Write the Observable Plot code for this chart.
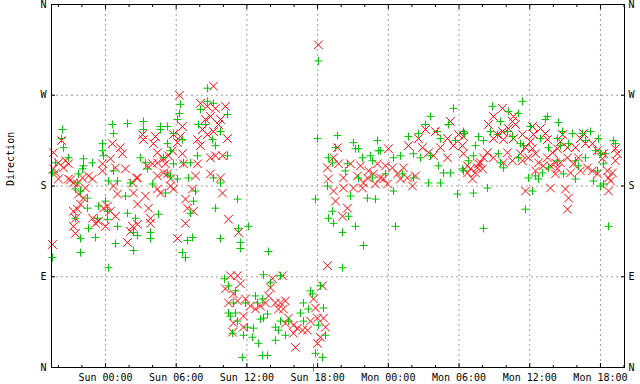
<!DOCTYPE html>
<html><head><meta charset="utf-8">
<script src="https://cdn.jsdelivr.net/npm/d3@7"></script>
<script src="https://cdn.jsdelivr.net/npm/@observablehq/plot@0.6"></script>
<style>html,body{margin:0;padding:0;background:#fff}</style>
</head><body><div id="chart"></div>
<script>
// hours relative to Sunday 00:00, direction in degrees (0 = N, 90 = E, 180 = S, 270 = W)
const xTicks = [0, 6, 12, 18, 24, 30, 36, 42];
const xTickLabels = ["Sun 00:00", "Sun 06:00", "Sun 12:00", "Sun 18:00", "Mon 00:00", "Mon 06:00", "Mon 12:00", "Mon 18:00"];
const yTicks = [0, 90, 180, 270, 360];
const yTickLabels = ["N", "E", "S", "W", "N"];
const xDomain = [-4.58, 44.04];

const redPoints = [
[-4.41,213],[-3.73,225],[-4.41,197],[-3.99,203],[-3.39,205],[-3.14,202],[-3.56,198],[-4.24,193],[-3.99,187],[-3.14,187],[-2.97,186],[-2.72,183],[-2.38,182],[-1.95,188],[-1.44,190],[-1.10,187],[-2.29,172],[-1.87,168],[-1.70,178],[-2.72,155],[-2.38,157],[-2.12,162],[-2.55,148],[-2.72,140],[-2.55,133],[-4.50,122],[-1.10,148],[-0.85,143],[-0.59,145],[-0.17,158],[0.17,160],[0.42,155],[0,140],[-0.25,202],[-0.25,195],[0.59,222],[1.27,218],[1.44,212],[0.42,207],[0.85,198],[1.70,197],[2.12,135],[1.87,124],[2.29,140],[2.72,142],[2.72,188],[0.68,180],[1.02,172],[0.85,150],
[6.28,270],[9.16,279],[6.53,239],[6.36,229],[6.11,223],[5.77,231],[6.53,212],[5.68,215],[5.35,210],[4.92,207],[4.41,203],[3.99,202],[3.56,200],[3.22,226],[3.14,231],[4.24,229],[4.07,222],[4.41,213],[5.09,202],[4.92,193],[4.41,190],[5.26,192],[5.52,187],[4.41,177],[4.67,173],[5.52,180],[5.77,177],[2.63,188],[2.29,183],[2.38,173],[2.72,162],[3.39,170],[3.65,158],[3.82,148],[3.82,143],[6.62,202],[7.81,202],[7.64,190],[8.91,192],[9.76,188],[7.38,177],[6.79,167],[6.96,158],[7.47,155],[6.79,143],[6.11,128],[9.93,173],[10.44,147],[11.29,134],[8.06,262],[8.65,259],[9.33,257],[10.18,259],[8.91,249],[8.49,246],[9.76,246],[8.23,236],[8.65,231],[9.16,234],[9.59,241],[10.35,227],[7.81,226],[8.06,220],[9.33,210],[9.93,210],[8.91,208],
[18.84,101],[10.18,78],[10.61,91],[11.20,91],[11.45,83],[10.86,73],[10.44,64],[11.20,66],[11.88,68],[12.30,61],[12.73,58],[13.15,61],[13.58,64],[14.00,79],[14.17,88],[15.02,91],[13.83,71],[14.42,64],[14.85,64],[15.27,66],[15.10,58],[14.68,58],[15.53,49],[15.95,42],[16.29,39],[16.72,37],[17.14,37],[15.95,34],[16.12,20],[11.71,51],[10.86,44],[10.78,35],[11.71,40],[15.27,44],[17.65,68],[17.99,49],[18.50,49],[18.67,40],[18.24,30],[17.99,24],[18.41,81],[17.82,59],[17.39,46],
[18.07,320],[19.77,202],[18.92,187],[18.84,198],[19.35,208],[20.19,188],[19.52,165],[20.53,158],[20.11,150],[19.35,175],[20.19,178],[21.04,178],[20.79,202],[21.64,200],[21.81,178],[22.32,195],[22.74,192],[22.91,182],[23.33,188],[23.76,200],[24.01,217],[24.35,198],[24.78,192],[25.03,187],[25.62,188],[26.05,180],[26.30,190],[25.71,220],[26.56,227],[27.15,236],[26.90,218],[27.41,213],[27.83,210],[28.00,234],[28.42,218],[29.02,227],[29.27,244],[29.53,220],[29.95,231],[30.38,212],[30.72,200],[29.02,208],[25.29,198],[23.08,202],[22.23,188],[21.38,190],[19.69,218],[21.89,183],[23.93,182],[23.59,187],
[33.69,257],[32.92,249],[32.50,241],[34.62,249],[34.53,244],[34.79,241],[34.19,237],[33.69,234],[33.26,231],[32.92,227],[33.77,226],[34.62,227],[35.38,231],[36.23,239],[36.32,231],[36.91,237],[37.33,232],[37.50,226],[36.06,224],[35.64,218],[36.23,217],[36.49,212],[35.89,208],[35.21,212],[35.38,205],[34.53,205],[34.11,213],[33.77,203],[32.92,208],[32.41,213],[32.07,208],[31.82,203],[31.99,197],[31.56,198],[30.97,197],[30.72,193],[31.14,187],[31.39,193],[31.65,202],[30.29,220],[30.38,229],[36.74,203],[37.50,208],[37.93,213],[38.35,217],[38.60,224],[38.78,231],[39.20,218],[39.88,218],[40.30,227],[40.56,232],[40.73,222],[41.32,222],[40.13,208],[39.71,202],[39.20,208],[38.60,203],[38.35,197],[38.18,192],[39.46,193],[40.30,195],[40.90,198],[41.32,195],[41.75,192],[42.17,207],[42.25,212],[41.75,215],[42.68,188],[43.02,193],[42.85,185],[43.27,205],[43.44,212],[42.59,195],[35.64,175],[37.76,178],[39.03,177],[39.29,168],[39.20,157],[42.68,175],[43.27,217],[37.16,200],[37.76,200],[38.18,203],[36.49,195]
];

const greenPoints = [
[-3.65,236],[-3.73,227],[-3.56,218],[-4.24,203],[-3.14,208],[-4.50,193],[-1.87,207],[-1.87,200],[-1.10,203],[-1.95,197],[-2.29,192],[-2.38,183],[-2.55,177],[-2.12,175],[-1.53,168],[-1.53,158],[-2.55,148],[-1.44,138],[-2.12,128],[-2.12,114],[-0.85,129],[-0.68,148],[-0.59,160],[0,165],[0.17,155],[0.17,147],[0.59,241],[0.68,232],[1.87,242],[-0.25,222],[-0.25,215],[-0.17,210],[0.68,195],[0.25,185],[1.02,185],[1.70,170],[2.12,183],[2.55,148],[2.38,134],[2.38,116],[2.72,131],[0.85,123],[0.25,99],[1.02,140],[1.87,153],[-4.50,109],
[8.65,277],[6.36,261],[6.28,252],[6.11,246],[8.06,256],[8.65,264],[9.16,262],[10.35,251],[7.89,241],[8.49,241],[9.76,234],[9.33,220],[9.08,226],[3.22,244],[3.22,236],[4.67,239],[5.26,239],[4.67,236],[5.77,232],[6.53,226],[5.26,222],[5.52,215],[4.92,208],[2.97,208],[3.39,203],[3.56,197],[5.77,202],[6.62,203],[7.21,203],[7.81,210],[10.35,210],[7.04,188],[6.11,187],[9.16,188],[9.76,183],[5.26,192],[5.52,190],[3.99,182],[5.09,173],[7.64,175],[7.47,165],[7.21,153],[11.20,167],[9.33,158],[4.50,152],[3.82,134],[3.82,128],[7.38,129],[6.96,126],[6.53,114],[6.79,109],[9.76,128],[11.29,138],[11.45,124],[11.45,118],[12.13,140],
[13.83,115],[10.10,88],[13.41,92],[14.85,91],[14.00,84],[10.44,81],[11.03,76],[12.73,71],[13.32,68],[12.90,64],[10.86,64],[11.88,64],[10.44,54],[11.03,54],[10.61,51],[11.20,46],[10.78,34],[11.71,32],[12.47,30],[12.56,39],[12.05,40],[13.75,53],[13.41,49],[13.15,48],[14.85,46],[14.68,37],[15.27,32],[14.42,27],[12.98,24],[13.32,12],[13.75,12],[11.62,10],[16.55,54],[16.80,46],[16.80,64],[17.22,58],[17.39,76],[17.56,73],[18.24,81],[18.50,59],[18.07,42],[18.67,32],[17.82,14],[17.65,0],[18.41,10],[15.53,46],[14.42,40],
[18.07,304],[17.99,227],[19.69,230],[17.82,167],[18.84,180],[18.92,208],[19.26,203],[19.52,218],[21.04,223],[21.21,217],[21.47,217],[21.81,208],[23.08,225],[23.16,215],[23.33,215],[22.48,210],[22.65,205],[24.44,208],[25.03,210],[25.71,229],[27.58,249],[27.15,241],[26.56,232],[29.53,257],[29.10,241],[30.38,234],[28.17,234],[28.42,227],[29.70,225],[20.79,170],[22.23,168],[22.91,167],[24.44,175],[24.61,140],[21.21,140],[21.89,121],[20.11,134],[19.35,143],[18.92,148],[19.26,155],[20.62,150],[20.11,99],[26.13,212],[26.73,208],[27.58,210],[28.25,200],[28.68,193],[29.27,193],[28.42,183],[27.41,183],[29.87,172],[30.29,197],[26.13,188],[25.20,192],[23.76,192],[22.65,188],[21.47,188],[20.36,195],[20.53,202],
[35.38,264],[32.84,259],[34.19,254],[35.04,252],[37.50,249],[37.33,246],[38.44,243],[36.06,239],[33.52,244],[32.67,234],[31.65,229],[32.07,225],[31.39,220],[30.46,232],[33.26,231],[34.11,234],[34.53,229],[35.21,222],[35.47,220],[36.91,227],[37.59,218],[38.35,227],[38.78,234],[39.62,232],[40.47,232],[41.15,234],[41.83,227],[40.73,225],[39.29,222],[38.60,220],[39.88,205],[40.13,200],[40.73,208],[41.58,215],[42.00,212],[43.10,225],[43.27,222],[42.43,212],[42.25,202],[41.75,195],[41.41,185],[42.00,180],[42.25,182],[38.35,205],[37.59,198],[37.08,193],[36.49,190],[35.89,188],[35.04,208],[33.77,198],[33.35,212],[33.52,203],[31.22,210],[30.80,205],[30.38,195],[32.41,178],[31.22,173],[35.64,157],[36.23,175],[32.07,138],[42.68,140],[36.74,187],[38.86,192],[39.88,187]
];

const minorTicks = d3.range(-4, 45, 2).filter(h => h % 6 !== 0);
const xFmt = d => xTickLabels[xTicks.indexOf(d)];
const yFmt = d => yTickLabels[yTicks.indexOf(d)];
const grid = {stroke: "#a0a0a0", strokeOpacity: 1, strokeDasharray: "2,3", strokeWidth: 1};

const chart = Plot.plot({
  width: 640, height: 384,
  marginLeft: 51, marginRight: 16, marginTop: 4, marginBottom: 17,
  style: {fontFamily: "'DejaVu Sans Mono', monospace", fontSize: "10px", background: "#fff", color: "#000", overflow: "visible"},
  x: {domain: xDomain},
  y: {domain: [0, 360]},
  marks: [
    Plot.gridX(xTicks, grid),
    Plot.gridY([90, 180, 270], grid),
    Plot.dot(redPoints, {x: d => d[0], y: d => d[1], symbol: "times", r: 4, stroke: "#ff0000", strokeWidth: 1}),
    Plot.dot(greenPoints, {x: d => d[0], y: d => d[1], symbol: "plus", r: 2.7, stroke: "#00c000", strokeWidth: 1}),
    Plot.frame({stroke: "#000"}),
    Plot.axisX(xTicks, {anchor: "bottom", tickSize: -4, fill: "none", label: null}),
    Plot.axisX(minorTicks, {anchor: "bottom", tickSize: -2, fill: "none", label: null}),
    Plot.axisX(xTicks, {anchor: "top", tickSize: -4, fill: "none", label: null}),
    Plot.axisX(minorTicks, {anchor: "top", tickSize: -2, fill: "none", label: null}),
    Plot.axisX(xTicks, {anchor: "bottom", tickSize: 0, tickPadding: 6, tickFormat: xFmt, label: null}),
    Plot.axisY(yTicks, {anchor: "left", tickSize: -4, fill: "none", label: null}),
    Plot.axisY(yTicks, {anchor: "right", tickSize: -4, fill: "none", label: null}),
    Plot.axisY(yTicks, {anchor: "left", tickSize: 0, tickPadding: 5, tickFormat: yFmt, label: null}),
    Plot.axisY(yTicks, {anchor: "right", tickSize: 0, tickPadding: 4, tickFormat: yFmt, label: null}),
    Plot.text(["Direction"], {text: d => d, frameAnchor: "left", dx: -41, rotate: -90})
  ]
});
document.getElementById("chart").appendChild(chart);
</script>
</body></html>
